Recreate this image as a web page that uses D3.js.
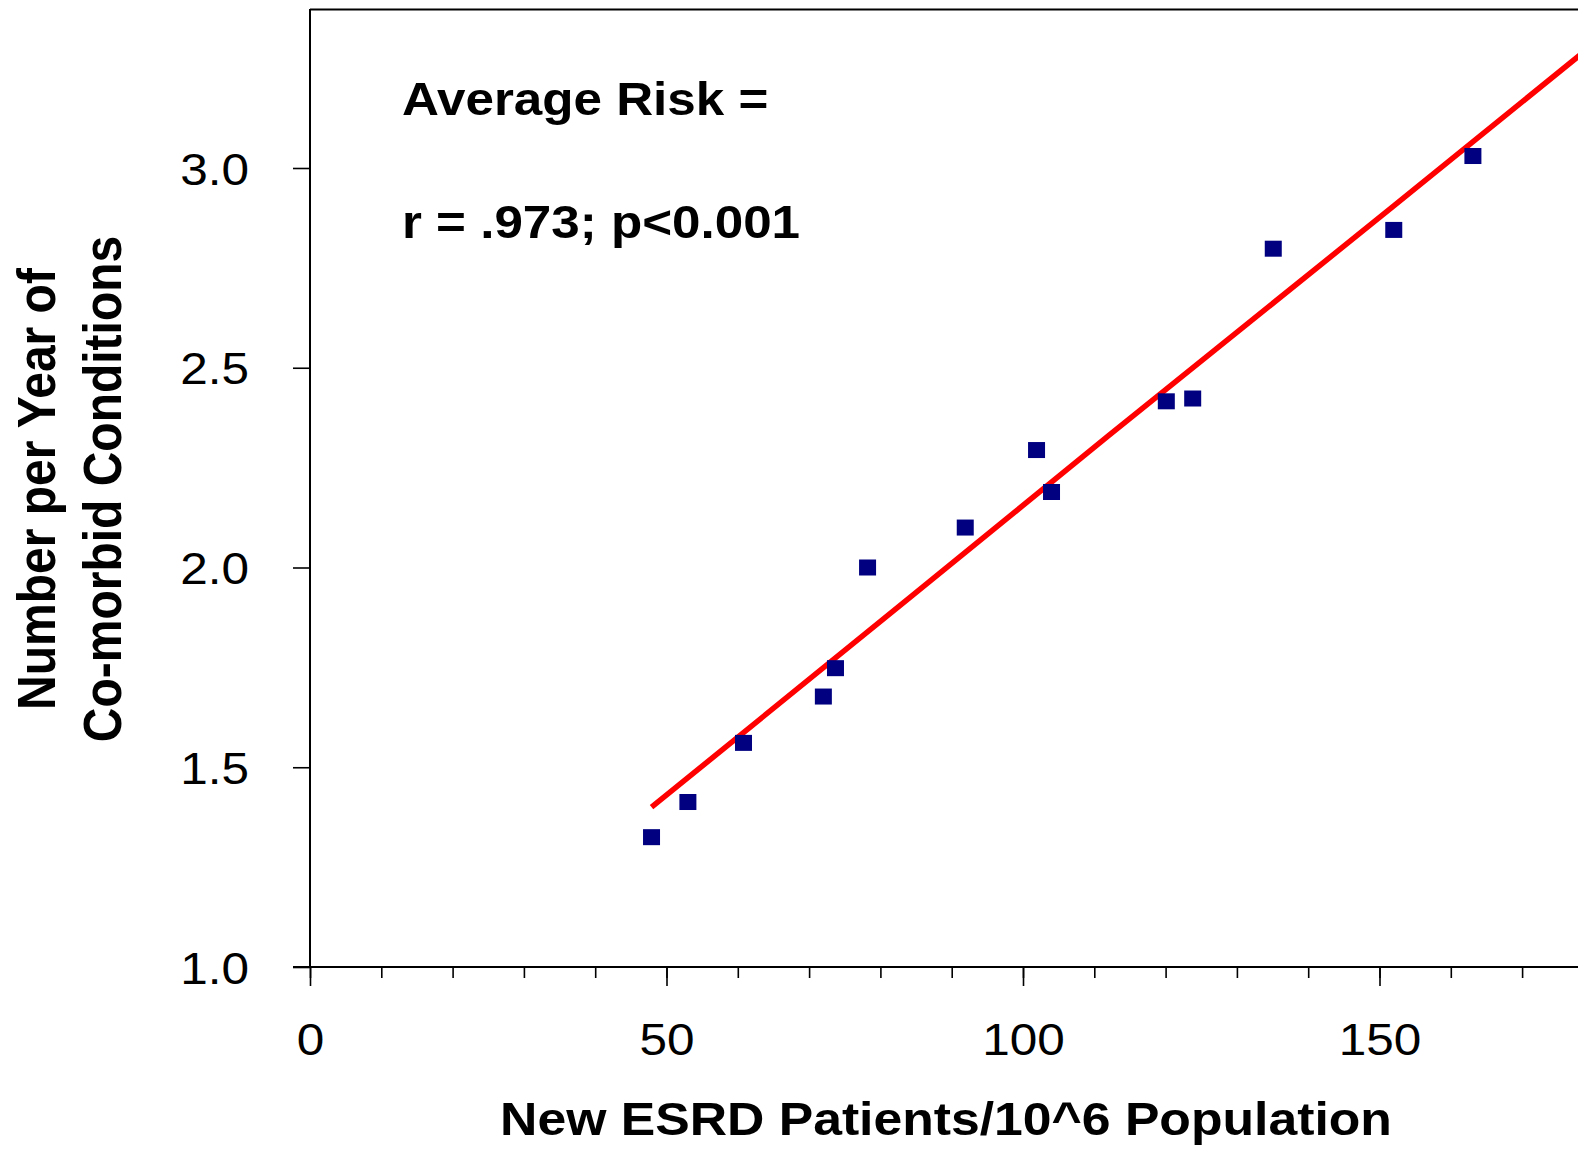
<!DOCTYPE html>
<html>
<head>
<meta charset="utf-8">
<script src="https://cdn.jsdelivr.net/npm/d3@7"></script>
<style>
  html, body { margin: 0; padding: 0; background: #fff; }
  svg { display: block; }
  text { font-family: "Liberation Sans", Arial, sans-serif; fill: #000; }
</style>
</head>
<body>
<div id="chart"></div>
<script>
// New ESRD patients per million population vs. co-morbid conditions per year
const esrdRate = [47.9, 53.0, 60.8, 72.0, 73.7, 78.2, 91.9, 101.9, 104.0, 120.1, 123.8, 135.1, 152.0, 163.1];
const comorbid = [1.325, 1.413, 1.561, 1.677, 1.748, 2.0, 2.10, 2.294, 2.189, 2.416, 2.423, 2.798, 2.845, 3.030];

// Fitted trend line vertices
const trendX = [47.9, 84.5, 112, 152, 180];
const trendY = [1.40, 1.93, 2.33, 2.905, 3.31];

const yTicks = [1.0, 1.5, 2.0, 2.5, 3.0];
const xMajorTicks = [0, 50, 100, 150];
const xMinorTicks = d3.range(0, 180, 10);

const annotationLines = ["Average Risk =", "r = .973; p<0.001"];
const xTitle = "New ESRD Patients/10^6 Population";
const yTitleLines = ["Number per Year of", "Co-morbid Conditions"];

const W = 1578, H = 1149;
const stretch = 1.1;   // horizontal text stretch

const svg = d3.select("#chart").append("svg")
  .attr("width", W).attr("height", H);
svg.append("rect").attr("width", W).attr("height", H).attr("fill", "#fff");

const x = d3.scaleLinear().domain([0, 180]).range([310, 310 + 180 * 7.13]);
const y = d3.scaleLinear().domain([1.0, 3.4]).range([967, 967 - 2.4 * 399.5]);

const x0 = x(0), yBase = y(1.0);

// Frame: top border and axis lines
svg.append("line")
  .attr("x1", x0).attr("x2", W).attr("y1", 9.5).attr("y2", 9.5)
  .attr("stroke", "#000").attr("stroke-width", 2);
svg.append("line")
  .attr("x1", x0).attr("x2", x0).attr("y1", 9).attr("y2", yBase)
  .attr("stroke", "#000").attr("stroke-width", 2);
svg.append("line")
  .attr("x1", x0 - 17).attr("x2", W).attr("y1", yBase).attr("y2", yBase)
  .attr("stroke", "#000").attr("stroke-width", 2);

// Y axis
const yAxis = svg.append("g")
  .attr("transform", `translate(${x0},0)`)
  .call(d3.axisLeft(y).tickValues(yTicks).tickSize(17).tickFormat(d3.format(".1f")));
yAxis.select(".domain").remove();
yAxis.selectAll(".tick line").attr("stroke", "#000").attr("stroke-width", 1.6);
yAxis.selectAll(".tick text")
  .attr("x", null).attr("dy", "0.36em")
  .attr("transform", `translate(-61,0) scale(${stretch},1)`)
  .attr("text-anchor", "end")
  .style("font-size", "45px").style("font-family", null).attr("font-family", null)
  .attr("fill", "#000");

// X axis: minor ticks
const xMinor = svg.append("g")
  .attr("transform", `translate(0,${yBase})`)
  .call(d3.axisBottom(x).tickValues(xMinorTicks).tickSize(11).tickFormat(""));
xMinor.select(".domain").remove();
xMinor.selectAll(".tick line").attr("stroke", "#000").attr("stroke-width", 1.6);

// X axis: major ticks with labels
const xMajor = svg.append("g")
  .attr("transform", `translate(0,${yBase})`)
  .call(d3.axisBottom(x).tickValues(xMajorTicks).tickSize(19).tickFormat(d3.format("d")));
xMajor.select(".domain").remove();
xMajor.selectAll(".tick line").attr("stroke", "#000").attr("stroke-width", 1.6);
xMajor.selectAll(".tick text")
  .attr("y", null).attr("dy", null)
  .attr("transform", `translate(0,88) scale(${stretch},1)`)
  .attr("text-anchor", "middle")
  .style("font-size", "45px").attr("font-family", null)
  .attr("fill", "#000");

// Trend line
const trend = trendX.map((d, i) => [d, trendY[i]]);
svg.append("path")
  .datum(trend)
  .attr("d", d3.line().x(d => x(d[0])).y(d => y(d[1])))
  .attr("fill", "none")
  .attr("stroke", "#ff0000")
  .attr("stroke-width", 5.5);

// Data points
const pts = esrdRate.map((d, i) => ({ x: d, y: comorbid[i] }));
svg.append("g").selectAll("rect")
  .data(pts)
  .join("rect")
  .attr("x", d => x(d.x) - 8.5)
  .attr("y", d => y(d.y) - 8)
  .attr("width", 17)
  .attr("height", 16)
  .attr("fill", "#000080");

// Annotation
const annY = [115, 238];
annotationLines.forEach((t, i) => {
  svg.append("text")
    .attr("transform", `translate(402,${annY[i]}) scale(${stretch},1)`)
    .style("font-size", "46.5px")
    .style("font-weight", "bold")
    .text(t);
});

// X axis title
svg.append("text")
  .attr("transform", `translate(946,1135) scale(${stretch},1)`)
  .attr("text-anchor", "middle")
  .style("font-size", "47px")
  .style("font-weight", "bold")
  .text(xTitle);

// Y axis title (two lines)
const yTitleX = [55, 121];
yTitleLines.forEach((t, i) => {
  svg.append("text")
    .attr("transform", `translate(${yTitleX[i]},489) scale(${stretch},1) rotate(-90)`)
    .attr("text-anchor", "middle")
    .style("font-size", "48px")
    .style("font-weight", "bold")
    .text(t);
});
</script>
</body>
</html>
